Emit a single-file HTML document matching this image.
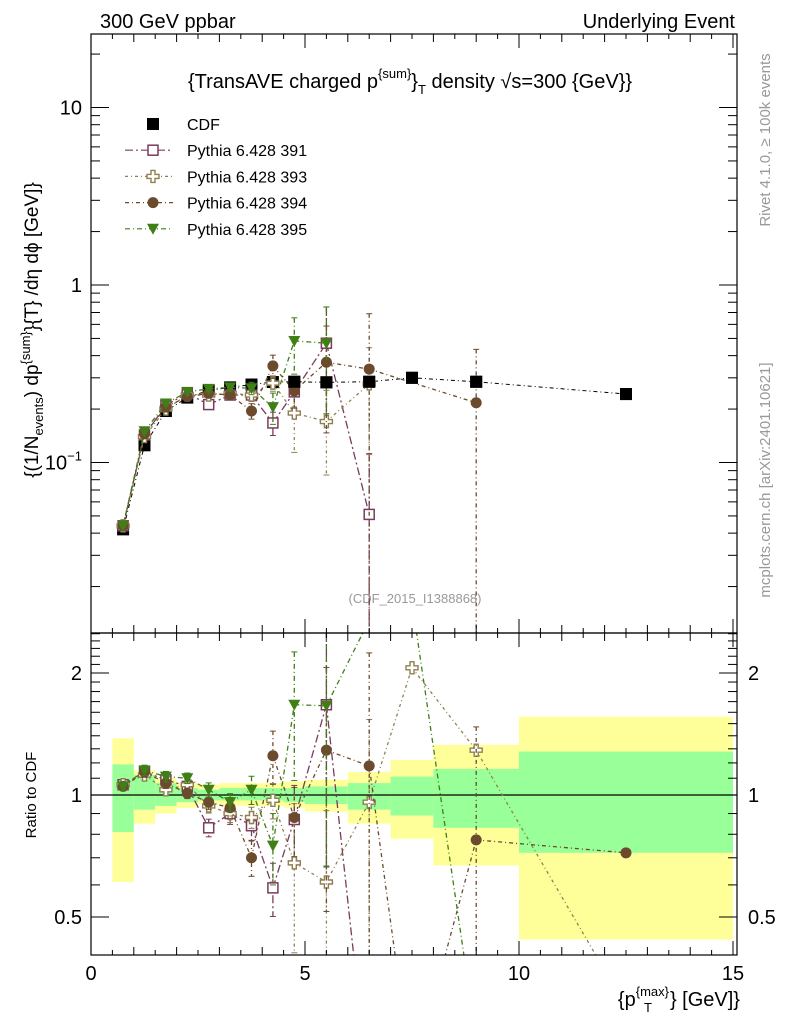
<!DOCTYPE html>
<html><head><meta charset="utf-8">
<style>
html,body{margin:0;padding:0;background:#fff;width:786px;height:1024px;overflow:hidden;}
svg{display:block;font-family:"Liberation Sans",sans-serif;}
</style></head>
<body>
<svg id="chart" width="786" height="1024" viewBox="0 0 786 1024" xmlns="http://www.w3.org/2000/svg">
<text x="100" y="28" font-size="20">300 GeV ppbar</text>
<text x="735" y="28" font-size="20" text-anchor="end">Underlying Event</text>
<text x="410" y="88" font-size="20" text-anchor="middle">{TransAVE charged p<tspan font-size="13" dy="-10">{sum}</tspan><tspan dy="10">}</tspan><tspan font-size="13" dy="6">T</tspan><tspan dy="-6"> density √s=300 {GeV}}</tspan></text>
<text transform="translate(770,140) rotate(-90)" font-size="15" fill="#999" text-anchor="middle">Rivet 4.1.0, ≥ 100k events</text>
<text transform="translate(770,480) rotate(-90)" font-size="15" fill="#999" text-anchor="middle">mcplots.cern.ch [arXiv:2401.10621]</text>
<text x="415" y="603" font-size="13" fill="#999" text-anchor="middle">(CDF_2015_I1388868)</text>
<text transform="translate(38,330) rotate(-90)" font-size="19" text-anchor="middle">{(1/N<tspan font-size="13" dy="5">events</tspan><tspan dy="-5">) dp</tspan><tspan font-size="13" dy="-8">{sum}</tspan><tspan dy="8">}{T} /dη  dϕ [GeV]}</tspan></text>
<text transform="translate(36,795) rotate(-90)" font-size="15" text-anchor="middle">Ratio to CDF</text>
<text x="740" y="1006" font-size="20" text-anchor="end">{p<tspan font-size="13" dy="-10">{max}</tspan><tspan font-size="13" dy="16" dx="-25">T</tspan><tspan dy="-6" dx="18">} [GeV]}</tspan></text>
<g id="g"></g>
</svg>
<script>
const xs = [0.75,1.25,1.75,2.25,2.75,3.25,3.75,4.25,4.75,5.5,6.5,7.5,9,12.5];
const cdfVals = [0.042,0.125,0.195,0.232,0.255,0.265,0.275,0.284,0.285,0.283,0.285,0.30,0.285,0.243];
const v391 = [0.044,0.143,0.21,0.245,0.212,0.24,0.24,0.167,0.25,0.47,0.051];
const v393 = [0.044,0.14,0.2,0.24,0.24,0.245,0.24,0.28,0.19,0.17,0.277];
const v394 = [0.044,0.145,0.205,0.235,0.245,0.24,0.195,0.35,0.253,0.367,0.336,null,0.217];
const v395 = [0.044,0.15,0.215,0.25,0.26,0.265,0.262,0.205,0.484,0.47];
const e391 = [0.02,0.03,0.03,0.03,0.05,0.06,0.08,0.15,0.2,0.6,1.2];
const e393 = [0.02,0.03,0.03,0.03,0.04,0.05,0.06,0.1,0.4,0.5,0.6];
const e394 = [0.02,0.03,0.03,0.03,0.04,0.06,0.1,0.15,0.2,0.6,1.05,0,1.0];
const e395 = [0.02,0.03,0.03,0.03,0.04,0.05,0.08,0.2,0.35,0.6];
const r391 = [1.06,1.14,1.09,1.05,0.83,0.90,0.84,0.59,0.87,1.67,0.18];
const r393 = [1.06,1.12,1.03,1.06,0.94,0.90,0.88,0.97,0.68,0.61,0.96,2.06,1.29,0.3];
const r394 = [1.05,1.14,1.07,1.01,0.96,0.93,0.70,1.25,0.88,1.29,1.18,0.2,0.775,0.72];
const r395 = [1.05,1.15,1.11,1.10,1.03,0.96,1.03,0.75,1.67,1.66,2.7,3.0,0.25];
const binEdges = [0.5,1,1.5,2,2.5,3,3.5,4,4.5,5,6,7,8,10,15];
const yelHi = [1.38,1.15,1.10,1.07,1.06,1.07,1.07,1.07,1.08,1.09,1.14,1.22,1.33,1.56];
const yelLo = [0.61,0.85,0.90,0.93,0.95,0.94,0.94,0.94,0.93,0.91,0.85,0.78,0.67,0.44];
const grnHi = [1.19,1.12,1.07,1.04,1.03,1.04,1.04,1.04,1.04,1.05,1.07,1.11,1.16,1.28];
const grnLo = [0.81,0.92,0.94,0.96,0.97,0.97,0.97,0.97,0.96,0.95,0.92,0.89,0.83,0.72];
const xTicks = [0,5,10,15];

const NS="http://www.w3.org/2000/svg";
const g=document.getElementById('g');
const L=91,R=737,T=34,MB=633,RB=955;
const X=v=>L+v*(733-L)/15;
const Ym=v=>285-177.5*Math.log10(v);
const Yr=v=>795-122*Math.log2(v);
function el(t,a,p){const e=document.createElementNS(NS,t);for(const k in a)e.setAttribute(k,a[k]);(p||g).appendChild(e);return e;}
function clipRect(id,y0,y1){const c=el('clipPath',{id:id});el('rect',{x:L,y:y0,width:R-L,height:y1-y0},c);}
clipRect('cm',T,MB);clipRect('cr',MB,RB);
const gm=el('g',{'clip-path':'url(#cm)'});


const gr=el('g',{'clip-path':'url(#cr)'});



for(let i=0;i<yelHi.length;i++){
  const x0=X(binEdges[i]),x1=X(binEdges[i+1]);
  const b=el('rect',{x:x0,y:Yr(yelHi[i]),width:x1-x0,height:Yr(yelLo[i])-Yr(yelHi[i]),fill:'#ffff99'},gr);
  
  
  const c=el('rect',{x:x0,y:Yr(grnHi[i]),width:x1-x0,height:Yr(grnLo[i])-Yr(grnHi[i]),fill:'#99ff99'},gr);
  
  
}
el('line',{x1:L,x2:R,y1:Yr(1),y2:Yr(1),stroke:'#000','stroke-width':1.2},gr);

function marker(par,type,cx,cy,col,name){
  let m;
  if(type==='sq') m=el('rect',{x:cx-5,y:cy-5,width:10,height:10,fill:'#fff',stroke:col,'stroke-width':1.5},par);
  else if(type==='fsq') m=el('rect',{x:cx-6,y:cy-6,width:12,height:12,fill:'#000'},par);
  else if(type==='cross') m=el('path',{d:`M${cx-2},${cy-6}h4v4h4v4h-4v4h-4v-4h-4v-4h4z`,fill:'#fff',stroke:col,'stroke-width':1.4},par);
  else if(type==='circ') m=el('circle',{cx:cx,cy:cy,r:5.5,fill:col},par);
  else m=el('path',{d:`M${cx-6},${cy-5}h12l-6,11z`,fill:col},par);
  
  
}
const series=[
 {n:'391',v:v391,e:e391,r:r391,col:'#7a3b5e',t:'sq',dash:'8,3,2,3'},
 {n:'393',v:v393,e:e393,r:r393,col:'#8f7f50',t:'cross',dash:'3,3,1,3'},
 {n:'394',v:v394,e:e394,r:r394,col:'#6b4a2e',t:'circ',dash:'4,3,1,3'},
 {n:'395',v:v395,e:e395,r:r395,col:'#3f7f16',t:'tri',dash:'5,3,1,3'}
];
// clip a segment to y range [y0,y1]
function clipSeg(a,b,y0,y1){
  let [xa,ya]=a,[xb,yb]=b;
  let t0=0,t1=1;const dy=yb-ya;
  if(dy===0){ if(ya<y0||ya>y1) return null; }
  else{
    let ta=(y0-ya)/dy,tb=(y1-ya)/dy;
    if(ta>tb){const q=ta;ta=tb;tb=q;}
    t0=Math.max(t0,ta);t1=Math.min(t1,tb);
    if(t0>t1) return null;
  }
  return [[xa+(xb-xa)*t0,ya+dy*t0],[xa+(xb-xa)*t1,ya+dy*t1]];
}
function drawSeries(par,vals,errs,Y,s,kind,top,bottom){
  let pts=[];
  vals.forEach((v,i)=>{ if(v!=null) pts.push([X(xs[i]),Y(v),v,errs?errs[i]:0]); });
  let d='';
  for(let i=0;i+1<pts.length;i++){
    const c=clipSeg(pts[i],pts[i+1],top-2,bottom+2);
    if(c) d+=`M${c[0][0].toFixed(1)},${c[0][1].toFixed(1)}L${c[1][0].toFixed(1)},${c[1][1].toFixed(1)}`;
  }
  const ln=el('path',{d:d,fill:'none',stroke:s.col,'stroke-width':1.3,'stroke-dasharray':s.dash},par);
  
  
  pts.forEach(p=>{
    if(p[1]<top-2||p[1]>bottom+2) return;
    if(p[3]>0){
      const hi=p[2]*(1+p[3]),lo=p[2]*(1-p[3]);
      const yh=Math.max(Y(hi),top),yl=lo>0?Math.min(Y(lo),bottom):bottom;
      const eb=el('line',{x1:p[0],x2:p[0],y1:yh,y2:yl,stroke:s.col,'stroke-width':1.3,'stroke-dasharray':s.dash},par);
      
      
      if(Y(hi)>top) el('line',{x1:p[0]-3,x2:p[0]+3,y1:yh,y2:yh,stroke:s.col},par);
      if(lo>0 && Y(lo)<bottom) el('line',{x1:p[0]-3,x2:p[0]+3,y1:yl,y2:yl,stroke:s.col},par);
    }
    marker(par,s.t,p[0],p[1],s.col,kind+'-point-pythia-'+s.n);
  });
}
const cl=el('polyline',{points:cdfVals.map((v,i)=>X(xs[i])+','+Ym(v)).join(' '),fill:'none',stroke:'#000','stroke-width':1,'stroke-dasharray':'4,3,1,3'},gm);


cdfVals.forEach((v,i)=>marker(gm,'fsq',X(xs[i]),Ym(v),'#000','cdf-point'));
series.forEach(s=>drawSeries(gm,s.v,s.e,Ym,s,'main',T,MB));
series.forEach(s=>drawSeries(gr,s.r,s.e.map(x=>Math.min(x,0.9)),Yr,s,'ratio',MB,RB));
cdfVals.forEach((v,i)=>{ if(i>=8) marker(gm,'fsq',X(xs[i]),Ym(v),'#000','cdf-point'); });

[[T,MB],[MB,RB]].forEach((f,k)=>{
  const r=el('rect',{x:L,y:f[0],width:R-L,height:f[1]-f[0],fill:'none',stroke:'#000','stroke-width':1.2});
  
  
});
[[T,MB],[MB,RB]].forEach(f=>{
  for(let v=0;v<=15;v+=0.5){
    const len=(v%5===0)?14:(v%1===0?8:5);
    el('line',{x1:X(v),x2:X(v),y1:f[1],y2:f[1]-len,stroke:'#000'});
    el('line',{x1:X(v),x2:X(v),y1:f[0],y2:f[0]+len,stroke:'#000'});
  }
});
xTicks.forEach(v=>{
  const t=el('text',{x:X(v),y:980,'font-size':20,'text-anchor':'middle'});
  t.textContent=v;
  
  
});
for(let d=-2;d<=1;d++){
  for(let m=1;m<=9;m++){
    const v=m*Math.pow(10,d);const y=Ym(v);
    if(y<T||y>MB)continue;
    const len=m===1?18:9;
    el('line',{x1:L,x2:L+len,y1:y,y2:y,stroke:'#000'});
    el('line',{x1:R,x2:R-len,y1:y,y2:y,stroke:'#000'});
  }
}
[['10',10],['1',1]].forEach(a=>{
  const t=el('text',{x:82,y:Ym(a[1])+7,'font-size':20,'text-anchor':'end'});
  t.textContent=a[0];
  
  
});
const t10=el('text',{x:82,y:Ym(0.1)+7,'font-size':20,'text-anchor':'end'});
t10.innerHTML='10<tspan font-size="13" dy="-9">−1</tspan>';


[0.5,0.6,0.7,0.8,0.9,1,1.1,1.2,1.3,1.4,1.5,1.6,1.7,1.8,1.9,2,2.1,2.2,2.3,2.4,2.5].forEach(v=>{
  const y=Yr(v); if(y<MB||y>RB)return;
  const len=(v===0.5||v===1||v===2)?18:9;
  el('line',{x1:L,x2:L+len,y1:y,y2:y,stroke:'#000'});
  el('line',{x1:R,x2:R-len,y1:y,y2:y,stroke:'#000'});
});
[['2',2],['1',1],['0.5',0.5]].forEach(a=>{
  const t=el('text',{x:82,y:Yr(a[1])+7,'font-size':20,'text-anchor':'end'});
  t.textContent=a[0];
  
  
  const u=el('text',{x:748,y:Yr(a[1])+7,'font-size':20});
  u.textContent=a[0];
  
  
});
const leg=el('g',{});


const labels=['CDF','Pythia 6.428 391','Pythia 6.428 393','Pythia 6.428 394','Pythia 6.428 395'];
labels.forEach((lab,i)=>{
  const y=124+i*26.2;
  if(i===0) marker(leg,'fsq',153,y,'#000','legend-marker-cdf');
  else{
    const s=series[i-1];
    el('line',{x1:125,x2:173,y1:y,y2:y,stroke:s.col,'stroke-width':1.2,'stroke-dasharray':s.dash},leg);
    marker(leg,s.t,153,y,s.col,'legend-marker-'+s.n);
  }
  const t=el('text',{x:187,y:y+6,'font-size':16},leg);
  t.textContent=lab;
  
  
});
</script>
</body></html>
